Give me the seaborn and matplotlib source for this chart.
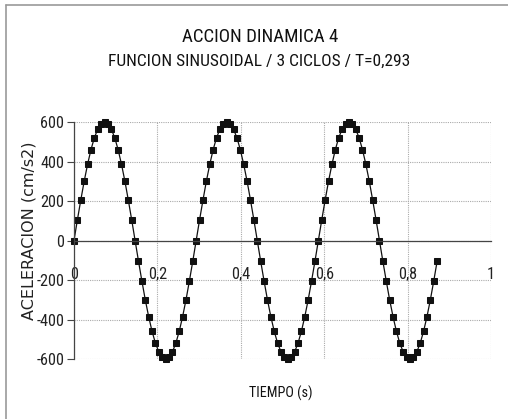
import matplotlib
matplotlib.use("Agg")
import matplotlib.pyplot as plt
from matplotlib import font_manager
import seaborn as sns
import pandas as pd
from matplotlib.lines import Line2D

# ---- data ----
tiempo = [
    0.0000, 0.0081, 0.0163, 0.0244, 0.0326, 0.0407, 0.0488, 0.0570, 0.0651, 0.0733,
    0.0814, 0.0895, 0.0977, 0.1058, 0.1139, 0.1221, 0.1302, 0.1384, 0.1465, 0.1546,
    0.1628, 0.1709, 0.1791, 0.1872, 0.1953, 0.2035, 0.2116, 0.2198, 0.2279, 0.2360,
    0.2442, 0.2523, 0.2604, 0.2686, 0.2767, 0.2849, 0.2930, 0.3011, 0.3093, 0.3174,
    0.3256, 0.3337, 0.3418, 0.3500, 0.3581, 0.3663, 0.3744, 0.3825, 0.3907, 0.3988,
    0.4069, 0.4151, 0.4232, 0.4314, 0.4395, 0.4476, 0.4558, 0.4639, 0.4721, 0.4802,
    0.4883, 0.4965, 0.5046, 0.5128, 0.5209, 0.5290, 0.5372, 0.5453, 0.5534, 0.5616,
    0.5697, 0.5779, 0.5860, 0.5941, 0.6023, 0.6104, 0.6186, 0.6267, 0.6348, 0.6430,
    0.6511, 0.6593, 0.6674, 0.6755, 0.6837, 0.6918, 0.6999, 0.7081, 0.7162, 0.7244,
    0.7325, 0.7406, 0.7488, 0.7569, 0.7651, 0.7732, 0.7813, 0.7895, 0.7976, 0.8058,
    0.8139, 0.8220, 0.8302, 0.8383, 0.8464, 0.8546, 0.8627, 0.8709,
]
aceleracion = [
    0, 104, 205, 300, 386, 460, 520, 564, 591, 600, 591, 564, 520, 460, 386, 300, 205, 104,
    0, -104, -205, -300, -386, -460, -520, -564, -591, -600, -591, -564, -520, -460, -386, -300, -205, -104,
    0, 104, 205, 300, 386, 460, 520, 564, 591, 600, 591, 564, 520, 460, 386, 300, 205, 104,
    0, -104, -205, -300, -386, -460, -520, -564, -591, -600, -591, -564, -520, -460, -386, -300, -205, -104,
    0, 104, 205, 300, 386, 460, 520, 564, 591, 600, 591, 564, 520, 460, 386, 300, 205, 104,
    0, -104, -205, -300, -386, -460, -520, -564, -591, -600, -591, -564, -520, -460, -386, -300, -205, -104,
]
x_ticks = [0, 0.2, 0.4, 0.6, 0.8, 1.0]
x_ticklabels = ["0", "0,2", "0,4", "0,6", "0,8", "1"]
y_ticks = [-600, -400, -200, 0, 200, 400, 600]
y_ticklabels = ["-600", "-400", "-200", "0", "200", "400", "600"]
title1 = "ACCION DINAMICA 4"
title2 = "FUNCION SINUSOIDAL / 3 CICLOS / T=0,293"
xlabel = "TIEMPO (s)"
ylabel = "ACELERACION (cm/s2)"

sns.set_style("white")
plt.rcParams["font.family"] = ["DejaVu Sans"]

# pick a condensed face if one is installed
names = {f.name for f in font_manager.fontManager.ttflist}
cond_stretch = "normal"
narrow_family = "DejaVu Sans"
for cand in ["Liberation Sans Narrow", "Roboto Condensed", "Open Sans Condensed",
             "DejaVu Sans Condensed"]:
    if cand in names:
        narrow_family = cand
        break
else:
    for f in font_manager.fontManager.ttflist:
        if f.name == "DejaVu Sans" and str(f.stretch) in ("condensed", "semi-condensed", "600", "700"):
            cond_stretch = "condensed"
            break
narrow = dict(family=[narrow_family, "DejaVu Sans"], fontstretch=cond_stretch)

df = pd.DataFrame({"t": tiempo, "a": aceleracion})

W, H = 508, 419
fig = plt.figure(figsize=(W / 100, H / 100), dpi=100)
fig.patch.set_facecolor("white")

L, R, T, B = 74, 491, 122, 359
ax = fig.add_axes([L / W, 1 - B / H, (R - L) / W, (B - T) / H])

sns.lineplot(data=df, x="t", y="a", ax=ax, color="#111111", linewidth=0.9,
             marker="s", markersize=4.6, markeredgecolor="#111111",
             markerfacecolor="#111111", estimator=None, sort=False, clip_on=False)

ax.set_xlim(0, 1)
ax.set_ylim(-600, 600)
ax.set_xticks(x_ticks)
ax.set_yticks(y_ticks)

ax.grid(True, color="#aaaaaa", linestyle=(0, (1, 1)), linewidth=0.8)
for s in ["top", "right"]:
    ax.spines[s].set_visible(False)
ax.spines["bottom"].set_position(("data", 0))
ax.spines["bottom"].set_color("#444444")
ax.spines["bottom"].set_linewidth(0.9)
ax.spines["left"].set_color("#444444")
ax.spines["left"].set_linewidth(0.9)
ax.tick_params(axis="x", length=0, pad=19)
ax.tick_params(axis="y", length=5, width=0.8, color="#444444", pad=2, left=True)
ax.set_xlabel("")
ax.set_ylabel("")

renderer = fig.canvas.get_renderer()


def fit(txt, target_px):
    w = txt.get_window_extent(renderer).width
    if w > 0:
        txt.set_fontsize(txt.get_fontsize() * target_px / w)


# tick labels sized to match reference widths
tmp = fig.text(0, 0, "600", fontsize=11, **narrow)
fit(tmp, 24)
tick_fs = tmp.get_fontsize()
tmp.remove()
ax.set_xticklabels(x_ticklabels, fontsize=tick_fs, color="#222222", **narrow)
ax.set_yticklabels(y_ticklabels, fontsize=tick_fs, color="#222222", **narrow)

fig.text(29 / W, 1 - 231 / H, ylabel, rotation=90, ha="center", va="center",
         fontsize=11.5, color="#222222", family=["DejaVu Sans"])

t1 = fig.text(260 / W, 1 - 37 / H, title1, ha="center", va="center",
              fontsize=12, color="#111111", **narrow)
fit(t1, 156)
t2 = fig.text(259 / W, 1 - 61 / H, title2, ha="center", va="center",
              fontsize=12, color="#111111", **narrow)
fit(t2, 300)
xl = fig.text(281 / W, 1 - 393 / H, xlabel, ha="center", va="center",
              fontsize=11, color="#111111", **narrow)
fit(xl, 63)

# scan frame (left and top edges)
fig.add_artist(Line2D([5.5 / W, 5.5 / W], [0, 1 - 5 / H], transform=fig.transFigure,
                      color="#999999", linewidth=1.2))
fig.add_artist(Line2D([5.5 / W, 1], [1 - 5 / H, 1 - 5 / H], transform=fig.transFigure,
                      color="#999999", linewidth=1.2))

fig.savefig("out.png", dpi=100)
